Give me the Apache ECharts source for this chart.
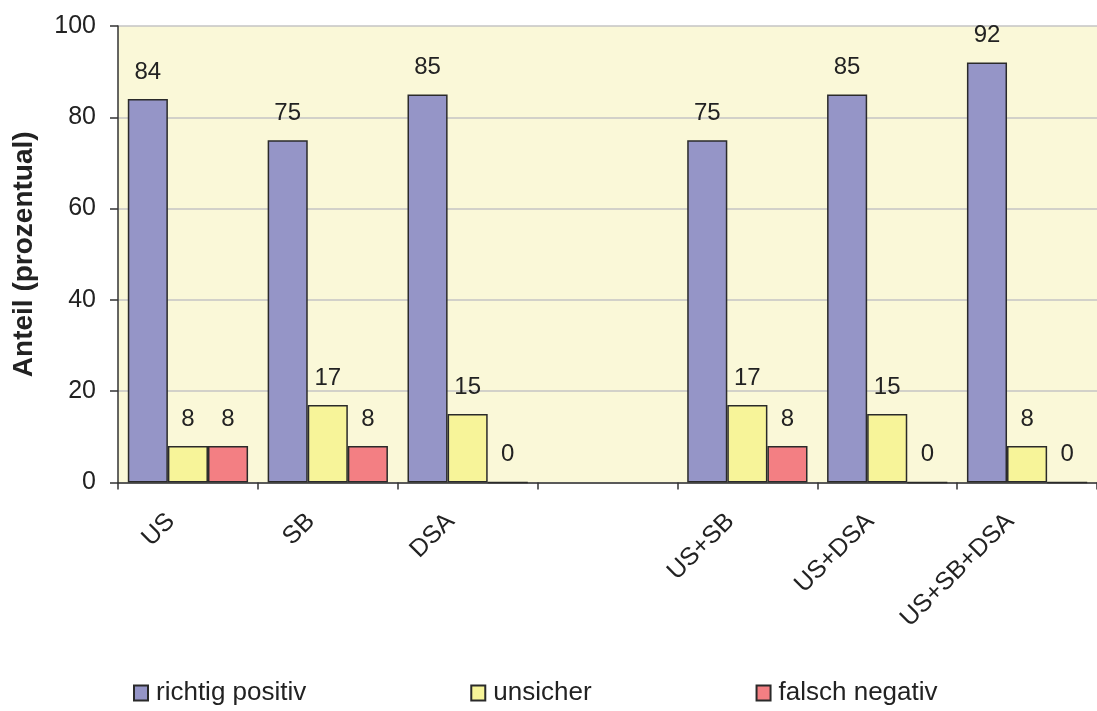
<!DOCTYPE html>
<html>
<head>
<meta charset="utf-8">
<script src="https://cdn.jsdelivr.net/npm/echarts@6/dist/echarts.min.js"></script>
<style>
  html, body { margin: 0; padding: 0; background: #ffffff; }
  #chart { width: 1097px; height: 711px; }
</style>
</head>
<body>
<div id="chart"></div>
<script>
// Diagnostic methods (the fourth slot is an empty spacer group)
const categories = ['US', 'SB', 'DSA', '', 'US+SB', 'US+DSA', 'US+SB+DSA'];
const richtigPositiv = [84, 75, 85, null, 75, 85, 92];
const unsicher = [8, 17, 15, null, 17, 15, 8];
const falschNegativ = [8, 8, 0, null, 8, 0, 0];
const yTicks = { min: 0, max: 100, interval: 20 };

const textColor = '#222222';
const font = 'Liberation Sans, Arial, sans-serif';

function barSeries(name, data, color) {
  return {
    name: name,
    type: 'bar',
    data: data,
    barGap: '0%',
    barCategoryGap: '14%',
    itemStyle: { color: color, borderColor: '#2a2a2a', borderWidth: 1.5 },
    label: {
      show: true,
      position: 'top',
      distance: 15,
      color: textColor,
      fontFamily: font,
      fontSize: 24
    }
  };
}

const chart = echarts.init(document.getElementById('chart'));
chart.setOption({
  animation: false,
  backgroundColor: '#ffffff',
  textStyle: { fontFamily: font, color: textColor },
  grid: {
    left: 118,
    top: 26,
    width: 989,
    bottom: 228.5,
    show: true,
    backgroundColor: '#FAF8D8',
    borderWidth: 0
  },
  legend: {
    left: 133,
    top: 680,
    padding: 0,
    itemGap: 164,
    itemWidth: 14,
    itemHeight: 15,
    icon: 'rect',
    textStyle: { fontSize: 26, color: textColor, fontFamily: font, padding: [0, 0, 0, 3] },
    data: ['richtig positiv', 'unsicher', 'falsch negativ']
  },
  xAxis: {
    type: 'category',
    data: categories,
    axisLine: { lineStyle: { color: '#333333', width: 1.5 } },
    axisTick: { show: true, length: 7, lineStyle: { color: '#333333', width: 1.5 } },
    axisLabel: {
      rotate: 45,
      interval: 0,
      margin: 18,
      padding: [0, 24, 0, 0],
      color: textColor,
      fontFamily: font,
      fontSize: 25
    }
  },
  yAxis: {
    type: 'value',
    min: yTicks.min,
    max: yTicks.max,
    interval: yTicks.interval,
    name: 'Anteil (prozentual)',
    nameLocation: 'middle',
    nameGap: 80,
    nameTextStyle: { fontSize: 28, fontWeight: 'bold', color: textColor, fontFamily: font },
    axisLine: { show: true, lineStyle: { color: '#333333', width: 1.5 } },
    axisTick: { show: true, length: 8, lineStyle: { color: '#333333', width: 1.5 } },
    axisLabel: { margin: 22, fontSize: 25, color: textColor, fontFamily: font },
    splitLine: { show: true, lineStyle: { color: '#c4c4c4', width: 1.5 } }
  },
  series: [
    barSeries('richtig positiv', richtigPositiv, '#9595C7'),
    barSeries('unsicher', unsicher, '#F7F499'),
    barSeries('falsch negativ', falschNegativ, '#F37F83')
  ]
});
</script>
</body>
</html>
